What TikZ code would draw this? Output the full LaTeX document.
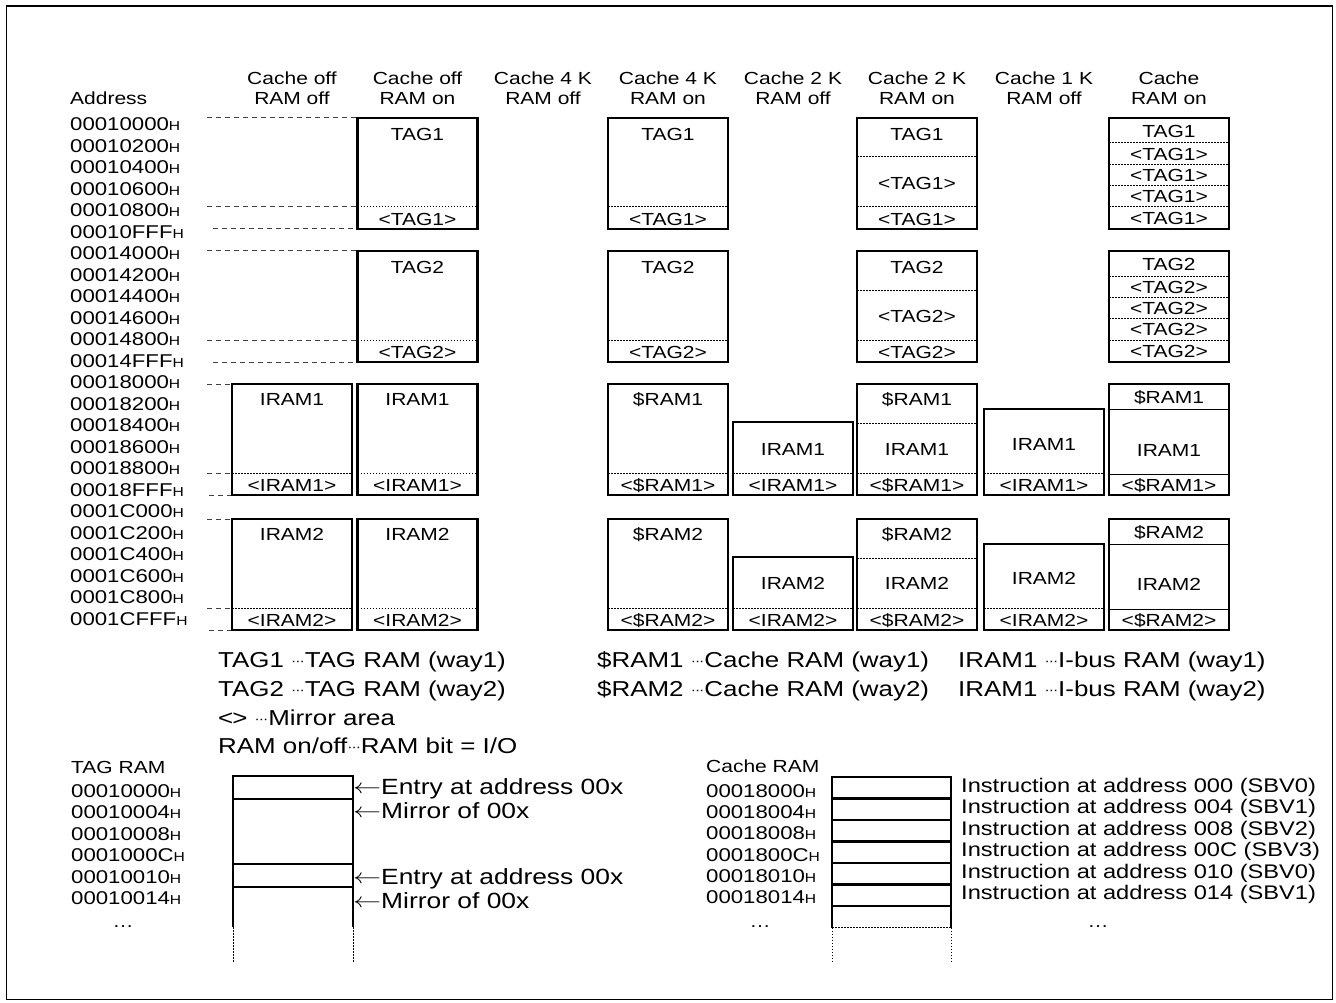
\documentclass[tikz,border=0pt]{standalone}
\usepackage{fontspec}
\setmainfont[FakeStretch=1.2]{Liberation Sans}
\usetikzlibrary{positioning}
\newcommand{\hsfx}{{\fontsize{13}{13}\selectfont H}}
\newcommand{\mdots}{{\fontsize{13}{13}\selectfont\raisebox{0.2em}{·\kern-1pt·\kern-1pt·}}}
\newcommand{\larr}{\raisebox{0.05em}{\scalebox{1.35}[1]{$\leftarrow$}}}

\begin{document}
\begin{tikzpicture}[x=1pt, y=-1pt,
    hdr/.style={font=\fontsize{17.5}{18}\selectfont, inner sep=0pt, text height=12.5pt, text depth=0pt},
    addr/.style={font=\fontsize{18.5}{19}\selectfont, anchor=west, inner sep=0pt, text height=13.2pt, text depth=0pt},
    lbl/.style={font=\fontsize{17.5}{18}\selectfont, inner sep=0pt, text height=12.5pt, text depth=0pt},
    blk/.style={line width=2.5pt},
    divider/.style={line width=1pt, dash pattern=on 1.5pt off 1.5pt},
    thin/.style={line width=1pt},
    guide/.style={line width=1pt, dash pattern=on 5pt off 4pt, black!75},
    legend/.style={font=\fontsize{21.6}{22}\selectfont, anchor=west, inner sep=0pt, text height=15.4pt, text depth=0pt},
    note/.style={font=\fontsize{22}{22}\selectfont, anchor=west, inner sep=0pt, text height=15.8pt, text depth=0pt},
    instr/.style={font=\fontsize{19.7}{20}\selectfont, anchor=west, inner sep=0pt, text height=14.1pt, text depth=0pt}
]
\useasboundingbox (0,0) rectangle (1336,1003);
% Frame
\draw[line width=1.8pt] (6.5,6) rectangle (1332.5,999.5);

% Column heads
\node[hdr] (hd1a) at (292,78) {Cache off};    \node[hdr] (hd1b) at (292,98) {RAM off};
\node[hdr] (hd2a) at (417.5,78) {Cache off};  \node[hdr] (hd2b) at (417.5,98) {RAM on};
\node[hdr] (hd3a) at (543,78) {Cache 4 K};    \node[hdr] (hd3b) at (543,98) {RAM off};
\node[hdr] (hd4a) at (668,78) {Cache 4 K};    \node[hdr] (hd4b) at (668,98) {RAM on};
\node[hdr] (hd5a) at (793,78) {Cache 2 K};    \node[hdr] (hd5b) at (793,98) {RAM off};
\node[hdr] (hd6a) at (917,78) {Cache 2 K};    \node[hdr] (hd6b) at (917,98) {RAM on};
\node[hdr] (hd7a) at (1044,78) {Cache 1 K};   \node[hdr] (hd7b) at (1044,98) {RAM off};
\node[hdr] (hd8a) at (1169,78) {Cache};       \node[hdr] (hd8b) at (1169,98) {RAM on};

% Address column
\node[lbl, anchor=west] (addrhd) at (70,98) {Address};
\foreach \a [count=\i from 0] in {00010000,00010200,00010400,00010600,00010800,00010FFF,
    00014000,00014200,00014400,00014600,00014800,00014FFF,
    00018000,00018200,00018400,00018600,00018800,00018FFF,
    0001C000,0001C200,0001C400,0001C600,0001C800,0001CFFF}
  \node[addr] (ad\i) at (70,124+21.5*\i) {\a\hsfx};

% Guide lines
\draw[guide] (207,118) -- (357.5,118);
\draw[guide] (207,207) -- (357.5,207);
\draw[guide] (213,229) -- (357.5,229);
\draw[guide] (207,251) -- (357.5,251);
\draw[guide] (207,340) -- (357.5,340);
\draw[guide] (213,362) -- (357.5,362);
\draw[guide] (207,384) -- (232,384);
\draw[guide] (207,473) -- (232,473);
\draw[guide] (209,495) -- (232,495);
\draw[guide] (207,519) -- (232,519);
\draw[guide] (207,608) -- (232,608);
\draw[guide] (209,630) -- (232,630);

% Cache off, RAM off
\draw[blk] (232,384) rectangle (352,495);
\draw[divider] (232,473) -- (352,473);
\node[lbl] (a1) at (292,399) {IRAM1};
\node[lbl] (a1m) at (292,485) {<IRAM1>};
\draw[blk] (232,519) rectangle (352,630);
\draw[divider] (232,608) -- (352,608);
\node[lbl] (a2) at (292,534) {IRAM2};
\node[lbl] (a2m) at (292,620) {<IRAM2>};

% Cache off, RAM on
\draw[blk] (357.5,118) rectangle (477.5,229);
\draw[divider] (357.5,207) -- (477.5,207);
\node[lbl] (b1) at (417.5,134) {TAG1};
\node[lbl] (b1m) at (417.5,219) {<TAG1>};
\draw[blk] (357.5,251) rectangle (477.5,362);
\draw[divider] (357.5,340) -- (477.5,340);
\node[lbl] (b2) at (417.5,267) {TAG2};
\node[lbl] (b2m) at (417.5,352) {<TAG2>};
\draw[blk] (357.5,384) rectangle (477.5,495);
\draw[divider] (357.5,473) -- (477.5,473);
\node[lbl] (b3) at (417.5,399) {IRAM1};
\node[lbl] (b3m) at (417.5,485) {<IRAM1>};
\draw[blk] (357.5,519) rectangle (477.5,630);
\draw[divider] (357.5,608) -- (477.5,608);
\node[lbl] (b4) at (417.5,534) {IRAM2};
\node[lbl] (b4m) at (417.5,620) {<IRAM2>};

% Cache 4 K, RAM on
\draw[blk] (608,118) rectangle (728,229);
\draw[divider] (608,207) -- (728,207);
\node[lbl] (d1) at (668,134) {TAG1};
\node[lbl] (d1m) at (668,219) {<TAG1>};
\draw[blk] (608,251) rectangle (728,362);
\draw[divider] (608,340) -- (728,340);
\node[lbl] (d2) at (668,267) {TAG2};
\node[lbl] (d2m) at (668,352) {<TAG2>};
\draw[blk] (608,384) rectangle (728,495);
\draw[divider] (608,473) -- (728,473);
\node[lbl] (d3) at (668,399) {\$RAM1};
\node[lbl] (d3m) at (668,485) {<\$RAM1>};
\draw[blk] (608,519) rectangle (728,630);
\draw[divider] (608,608) -- (728,608);
\node[lbl] (d4) at (668,534) {\$RAM2};
\node[lbl] (d4m) at (668,620) {<\$RAM2>};

% Cache 2 K, RAM off
\draw[blk] (733,422) rectangle (853,495);
\draw[divider] (733,473) -- (853,473);
\node[lbl] (e1) at (793,449) {IRAM1};
\node[lbl] (e1m) at (793,485) {<IRAM1>};
\draw[blk] (733,557) rectangle (853,630);
\draw[divider] (733,608) -- (853,608);
\node[lbl] (e2) at (793,583) {IRAM2};
\node[lbl] (e2m) at (793,620) {<IRAM2>};

% Cache 2 K, RAM on
\draw[blk] (857,118) rectangle (977,229);
\draw[divider] (857,157) -- (977,157);
\draw[divider] (857,207) -- (977,207);
\node[lbl] (f1) at (917,134) {TAG1};
\node[lbl] (f1a) at (917,183) {<TAG1>};
\node[lbl] (f1m) at (917,219) {<TAG1>};
\draw[blk] (857,251) rectangle (977,362);
\draw[divider] (857,290) -- (977,290);
\draw[divider] (857,340) -- (977,340);
\node[lbl] (f2) at (917,267) {TAG2};
\node[lbl] (f2a) at (917,316) {<TAG2>};
\node[lbl] (f2m) at (917,352) {<TAG2>};
\draw[blk] (857,384) rectangle (977,495);
\draw[divider] (857,423) -- (977,423);
\draw[divider] (857,473) -- (977,473);
\node[lbl] (f3) at (917,399) {\$RAM1};
\node[lbl] (f3a) at (917,449) {IRAM1};
\node[lbl] (f3m) at (917,485) {<\$RAM1>};
\draw[blk] (857,519) rectangle (977,630);
\draw[divider] (857,558) -- (977,558);
\draw[divider] (857,608) -- (977,608);
\node[lbl] (f4) at (917,534) {\$RAM2};
\node[lbl] (f4a) at (917,583) {IRAM2};
\node[lbl] (f4m) at (917,620) {<\$RAM2>};

% Cache 1 K, RAM off
\draw[blk] (984,409) rectangle (1104,495);
\draw[divider] (984,473) -- (1104,473);
\node[lbl] (g1) at (1044,444) {IRAM1};
\node[lbl] (g1m) at (1044,485) {<IRAM1>};
\draw[blk] (984,544) rectangle (1104,630);
\draw[divider] (984,608) -- (1104,608);
\node[lbl] (g2) at (1044,578) {IRAM2};
\node[lbl] (g2m) at (1044,620) {<IRAM2>};

% Cache, RAM on
\draw[blk] (1109,118) rectangle (1229,229);
\draw[divider] (1109,143) -- (1229,143);
\draw[divider] (1109,164.5) -- (1229,164.5);
\draw[divider] (1109,185.5) -- (1229,185.5);
\draw[divider] (1109,207) -- (1229,207);
\node[lbl] (h1) at (1169,131) {TAG1};
\node[lbl] (h1a) at (1169,154) {<TAG1>};
\node[lbl] (h1b) at (1169,175) {<TAG1>};
\node[lbl] (h1c) at (1169,196) {<TAG1>};
\node[lbl] (h1m) at (1169,218) {<TAG1>};
\draw[blk] (1109,251) rectangle (1229,362);
\draw[divider] (1109,276) -- (1229,276);
\draw[divider] (1109,297.5) -- (1229,297.5);
\draw[divider] (1109,318.5) -- (1229,318.5);
\draw[divider] (1109,340) -- (1229,340);
\node[lbl] (h2) at (1169,264) {TAG2};
\node[lbl] (h2a) at (1169,287) {<TAG2>};
\node[lbl] (h2b) at (1169,308) {<TAG2>};
\node[lbl] (h2c) at (1169,329) {<TAG2>};
\node[lbl] (h2m) at (1169,351) {<TAG2>};
\draw[blk] (1109,384) rectangle (1229,495);
\draw[thin] (1109,409) -- (1229,409);
\draw[thin] (1109,474) -- (1229,474);
\node[lbl] (h3) at (1169,397) {\$RAM1};
\node[lbl] (h3a) at (1169,450) {IRAM1};
\node[lbl] (h3m) at (1169,485) {<\$RAM1>};
\draw[blk] (1109,519) rectangle (1229,630);
\draw[thin] (1109,544) -- (1229,544);
\draw[thin] (1109,609) -- (1229,609);
\node[lbl] (h4) at (1169,532) {\$RAM2};
\node[lbl] (h4a) at (1169,584) {IRAM2};
\node[lbl] (h4m) at (1169,620) {<\$RAM2>};

% Legend
\node[legend] (lg1) at (218,660) {TAG1 \mdots TAG RAM (way1)};
\node[legend] (lg2) at (218,689) {TAG2 \mdots TAG RAM (way2)};
\node[legend] (lg3) at (218,718) {<\kern-1pt> \mdots Mirror area};
\node[legend] (lg4) at (218,746) {RAM on/off\mdots RAM bit = I/O};
\node[legend] (lg5) at (597,660) {\$RAM1 \mdots Cache RAM (way1)};
\node[legend] (lg6) at (597,689) {\$RAM2 \mdots Cache RAM (way2)};
\node[legend] (lg7) at (958,660) {IRAM1 \mdots I-bus RAM (way1)};
\node[legend] (lg8) at (958,689) {IRAM1 \mdots I-bus RAM (way2)};

% TAG RAM detail
\node[lbl, anchor=west] (tagram) at (71,767) {TAG RAM};
\foreach \a [count=\i from 0] in {00010000,00010004,00010008,0001000C,00010010,00010014}
  \node[addr] (ta\i) at (71,790.5+21.5*\i) {\a\hsfx};
\node[lbl] (tadots) at (123,921) {…};
\draw[blk] (233,927) -- (233,776) -- (353,776) -- (353,927);
\draw[blk] (233,799) -- (353,799);
\draw[blk] (233,864) -- (353,864);
\draw[blk] (233,887) -- (353,887);
\draw[divider] (233,927) -- (233,963);
\draw[divider] (353,927) -- (353,963);
\node[note] (ent1) at (353,787) {\larr Entry at address 00x};
\node[note] (mir1) at (353,811) {\larr Mirror of 00x};
\node[note] (ent2) at (353,877) {\larr Entry at address 00x};
\node[note] (mir2) at (353,901) {\larr Mirror of 00x};

% Cache RAM detail
\node[lbl, anchor=west] (cacheram) at (706,766) {Cache RAM};
\foreach \a [count=\i from 0] in {00018000,00018004,00018008,0001800C,00018010,00018014}
  \node[addr] (ca\i) at (706,790.5+21.3*\i) {\a\hsfx};
\node[lbl] (cadots) at (760,921) {…};
\draw[blk] (832,927.5) -- (832,777) -- (951,777) -- (951,927.5);
\foreach \k in {1,...,6}
  \draw[blk] (832,777+21.5*\k) -- (951,777+21.5*\k);
\draw[divider] (832,927.5) -- (951,927.5);
\draw[divider] (832,927.5) -- (832,963);
\draw[divider] (951,927.5) -- (951,963);
\node[instr] (in0) at (961,785) {Instruction at address 000 (SBV0)};
\node[instr] (in1) at (961,806.5) {Instruction at address 004 (SBV1)};
\node[instr] (in2) at (961,828) {Instruction at address 008 (SBV2)};
\node[instr] (in3) at (961,849.5) {Instruction at address 00C (SBV3)};
\node[instr] (in4) at (961,871) {Instruction at address 010 (SBV0)};
\node[instr] (in5) at (961,892.5) {Instruction at address 014 (SBV1)};
\node[lbl] (indots) at (1098,921) {…};
\end{tikzpicture}
\end{document}
